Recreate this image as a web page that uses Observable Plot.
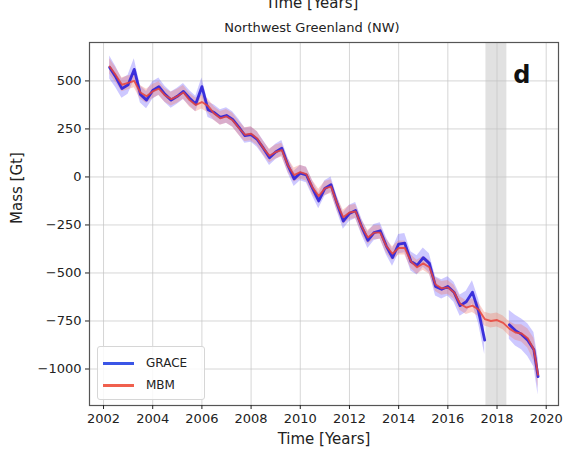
<!DOCTYPE html>
<html>
<head>
<meta charset="utf-8">
<script src="https://cdn.jsdelivr.net/npm/d3@7"></script>
<script src="https://cdn.jsdelivr.net/npm/@observablehq/plot@0.6"></script>
<style>
  body { margin: 0; background: #fff; font-family: "DejaVu Sans", sans-serif; }
  #wrap { position: relative; width: 566px; height: 451px; }
  #legend { position: absolute; left: 97px; top: 346px; width: 106px; height: 52px;
    border: 1px solid #d6d6d6; border-radius: 3px; background: rgba(255,255,255,0.85);
    font-family: "DejaVu Sans", sans-serif; font-size: 12px; color: #222; }
  #legend .row { position: absolute; left: 5px; height: 14px; display: flex; align-items: center; }
  #legend .sw { width: 31px; height: 3px; margin-right: 12px; }
</style>
</head>
<body>
<div id="wrap"></div>
<script>
// ---------- data ----------
const graceT = [2002.25,2002.5,2002.75,
  2003.0,2003.25,2003.5,2003.75, 2004.0,2004.25,2004.5,2004.75,
  2005.0,2005.25,2005.5,2005.75, 2006.0,2006.25,2006.5,2006.75,
  2007.0,2007.25,2007.5,2007.75, 2008.0,2008.25,2008.5,2008.75,
  2009.0,2009.25,2009.5,2009.75, 2010.0,2010.25,2010.5,2010.75,
  2011.0,2011.25,2011.5,2011.75, 2012.0,2012.25,2012.5,2012.75,
  2013.0,2013.25,2013.5,2013.75, 2014.0,2014.25,2014.5,2014.75,
  2015.0,2015.25,2015.5,2015.75, 2016.0,2016.25,2016.5,2016.75,
  2017.0,2017.25,2017.5,
  2018.0,
  2018.5,2018.75,2019.0,2019.25,2019.5,2019.67];
const graceV = [570,520,460,
  480,560,430,400, 450,470,430,400,
  420,445,410,380, 470,350,335,310,
  320,300,260,215, 220,195,150,100,
  130,150,60,-10, 20,10,-60,-125,
  -60,-40,-140,-230, -190,-175,-260,-330,
  -290,-280,-360,-420, -350,-345,-440,-460,
  -420,-450,-570,-585, -570,-600,-670,-650,
  -600,-700,-850,
  null,
  -770,-800,-820,-850,-900,-1040];
const graceErr = [60,55,50,
  50,55,45,45, 45,45,42,42,
  42,42,40,40, 45,40,40,40,
  40,40,40,40, 40,40,40,40,
  40,40,40,40, 40,40,40,40,
  40,40,40,42, 42,42,42,42,
  42,42,45,45, 50,50,50,50,
  50,50,50,50, 50,52,55,55,
  60,65,75,
  null,
  75,80,80,85,90,95];

const mbmT = [2002.25,2002.5,2002.75,
  2003.0,2003.25,2003.5,2003.75, 2004.0,2004.25,2004.5,2004.75,
  2005.0,2005.25,2005.5,2005.75, 2006.0,2006.25,2006.5,2006.75,
  2007.0,2007.25,2007.5,2007.75, 2008.0,2008.25,2008.5,2008.75,
  2009.0,2009.25,2009.5,2009.75, 2010.0,2010.25,2010.5,2010.75,
  2011.0,2011.25,2011.5,2011.75, 2012.0,2012.25,2012.5,2012.75,
  2013.0,2013.25,2013.5,2013.75, 2014.0,2014.25,2014.5,2014.75,
  2015.0,2015.25,2015.5,2015.75, 2016.0,2016.25,2016.5,2016.75,
  2017.0,2017.25,2017.5,2017.75, 2018.0,2018.25,2018.5,2018.75,
  2019.0,2019.25,2019.5,2019.67];
const mbmV = [575,530,480,
  490,500,440,420, 445,460,425,405,
  420,440,400,375, 390,370,330,305,
  315,295,255,220, 225,200,150,110,
  130,140,60,10, 25,15,-55,-100,
  -60,-50,-140,-210, -185,-180,-260,-315,
  -290,-290,-360,-400, -370,-370,-440,-470,
  -450,-470,-560,-580, -575,-600,-660,-680,
  -670,-690,-740,-750, -745,-760,-790,-810,
  -815,-840,-900,-1030];
const mbmErr = [40,38,36,
  36,36,36,36, 36,36,36,36,
  36,36,36,36, 36,36,36,36,
  36,36,36,36, 36,36,36,36,
  36,36,36,36, 36,36,36,36,
  36,36,36,36, 36,36,36,36,
  36,36,36,36, 36,36,36,36,
  36,36,36,36, 36,36,36,36,
  36,36,36,36, 36,36,38,40,
  45,50,60,70];

const gapStart = [2017.55];
const gapEnd = [2018.4];
const xTicks = [2002,2004,2006,2008,2010,2012,2014,2016,2018,2020];
const yTicks = [-1000,-750,-500,-250,0,250,500];
const titleText = "Northwest Greenland (NW)";
const panelLetter = "d";
const seriesNames = ["GRACE", "MBM"];

// ---------- tables ----------
const grace = graceT.map((t, i) => ({
  t, v: graceV[i],
  lo: graceV[i] == null ? null : graceV[i] - graceErr[i],
  hi: graceV[i] == null ? null : graceV[i] + graceErr[i]
}));
const mbm = mbmT.map((t, i) => ({ t, v: mbmV[i], lo: mbmV[i] - mbmErr[i], hi: mbmV[i] + mbmErr[i] }));
const gap = gapStart.map((s, i) => ({ x1: s, x2: gapEnd[i] }));

const BLUE = "#2a1fd8";
const RED = "#e8433a";
const FONT = "DejaVu Sans";

const plot = Plot.plot({
  width: 566,
  height: 451,
  marginLeft: 89,
  marginRight: 8,
  marginTop: 42,
  marginBottom: 46,
  style: { fontFamily: FONT, fontSize: "13px", color: "#222", background: "#fff" },
  x: { domain: [2001.43, 2020.5], ticks: xTicks, tickFormat: d3.format("d") },
  y: { domain: [-1190, 700], ticks: yTicks, tickFormat: d3.format("d") },
  marks: [
    Plot.rect(gap, { x1: "x1", x2: "x2", fill: "#d4d4d4", fillOpacity: 0.7 }),
    Plot.gridX(xTicks, { stroke: "#c4c4c4", strokeOpacity: 0.7 }),
    Plot.gridY(yTicks, { stroke: "#c4c4c4", strokeOpacity: 0.7 }),
    Plot.areaY(grace, { x: "t", y1: "lo", y2: "hi", fill: "#4a3aff", fillOpacity: 0.28, curve: "linear" }),
    Plot.areaY(mbm, { x: "t", y1: "lo", y2: "hi", fill: "#f27a6a", fillOpacity: 0.35, curve: "linear" }),
    Plot.line(grace, { x: "t", y: "v", stroke: BLUE, strokeWidth: 2.8, strokeOpacity: 0.9 }),
    Plot.line(mbm, { x: "t", y: "v", stroke: RED, strokeWidth: 1.9, strokeOpacity: 0.85 }),
    Plot.frame({ stroke: "#555", strokeWidth: 1.2 }),
    Plot.axisX({ ticks: xTicks, tickFormat: d3.format("d"), tickSize: 4, tickPadding: 4, fontSize: 13,
      label: "Time [Years]", labelAnchor: "center", labelArrow: "none", labelOffset: 38 }),
    Plot.axisY({ ticks: yTicks, tickFormat: d3.format("d"), tickSize: 4, tickPadding: 4, fontSize: 13, label: null }),
    Plot.text([titleText], { frameAnchor: "top", dx: -12, dy: -20, fontSize: 13, fill: "#222" }),
    Plot.text(["Time [Years]"], { frameAnchor: "top", lineAnchor: "bottom", dx: -12, dy: -35, fontSize: 15, fill: "#222" }),
    Plot.text(["Mass [Gt]"], { frameAnchor: "left", rotate: -90, dx: -72, fontSize: 15, fill: "#222" }),
    Plot.text([panelLetter], { frameAnchor: "top-right", dx: -28, dy: 23, fontSize: 24, fontWeight: "bold", fill: "#111" })
  ]
});
plot.querySelectorAll("[aria-label='x-axis label'] text, [aria-label='x-axis label']").forEach(n => { n.style.fontSize = "15px"; });

const wrap = document.getElementById("wrap");
wrap.appendChild(plot);

const legend = document.createElement("div");
legend.id = "legend";
legend.innerHTML =
  `<div class="row" style="top:9px"><div class="sw" style="background:#3a55e6"></div>${seriesNames[0]}</div>` +
  `<div class="row" style="top:31px"><div class="sw" style="background:#f0604e"></div>${seriesNames[1]}</div>`;
wrap.appendChild(legend);
</script>
</body>
</html>
